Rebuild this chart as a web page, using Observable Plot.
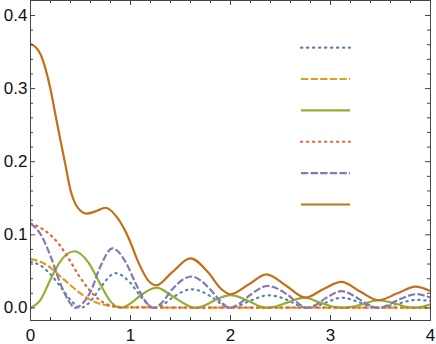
<!DOCTYPE html>
<html><head><meta charset="utf-8">
<script src="https://cdn.jsdelivr.net/npm/d3@7"></script>
<script src="https://cdn.jsdelivr.net/npm/@observablehq/plot@0.6"></script>
<style>body{margin:0;background:#fff}</style>
</head><body><div id="chart"></div>
<script>
// ---- data ----
const blueX = [0, 0.1, 0.2, 0.3, 0.4, 0.5, 0.6, 0.7, 0.85, 1.0, 1.1, 1.2, 1.25, 1.33, 1.43, 1.61, 1.8, 1.9, 1.99, 2.08, 2.2, 2.38, 2.55, 2.67, 2.76, 2.85, 2.95, 3.11, 3.3, 3.4, 3.48, 3.56, 3.68, 3.86, 4.0];
const blueY = [0.063, 0.058, 0.046, 0.029, 0.011, 0.0, 0.009, 0.028, 0.0475, 0.034, 0.016, 0.002, 0, 0.005, 0.015, 0.0255, 0.016, 0.006, 0, 0.003, 0.010, 0.0173, 0.012, 0.004, 0, 0.002, 0.007, 0.014, 0.007, 0.002, 0, 0.002, 0.006, 0.011, 0.0095];

const orangeDashX = [0, 0.1, 0.2, 0.3, 0.4, 0.5, 0.6, 0.7, 0.8, 0.9, 1.0, 1.5, 2.0, 2.5, 3.0, 3.5, 4.0];
const orangeDashY = [0.067, 0.063, 0.055, 0.043, 0.031, 0.020, 0.011, 0.0055, 0.0025, 0.0012, 0.0008, 0.0005, 0.0005, 0.0005, 0.0005, 0.0005, 0.0005];

const greenX = [0, 0.1, 0.2, 0.3, 0.44, 0.58, 0.7, 0.8, 0.9, 1.0, 1.1, 1.26, 1.42, 1.55, 1.65, 1.75, 1.88, 2.0, 2.18, 2.3, 2.37, 2.45, 2.58, 2.74, 2.9, 3.05, 3.13, 3.2, 3.32, 3.48, 3.65, 3.77, 3.83, 3.9, 4.0];
const greenY = [0, 0.011, 0.039, 0.064, 0.0775, 0.062, 0.032, 0.009, 0, 0.006, 0.017, 0.0277, 0.016, 0.005, 0, 0.004, 0.013, 0.0175, 0.0095, 0.002, 0, 0.002, 0.008, 0.014, 0.007, 0.001, 0, 0.001, 0.005, 0.0105, 0.006, 0.001, 0, 0.001, 0.005];

const redX = [0, 0.08, 0.18, 0.28, 0.38, 0.48, 0.58, 0.68, 0.78, 0.9, 1.0, 1.5, 2.0, 2.5, 3.0, 3.5, 4.0];
const redY = [0.1155, 0.111, 0.102, 0.088, 0.068, 0.045, 0.026, 0.012, 0.0042, 0.0012, 0.0008, 0.0005, 0.0005, 0.0005, 0.0005, 0.0005, 0.0005];

const purpleX = [0, 0.1, 0.2, 0.3, 0.38, 0.45, 0.52, 0.6, 0.7, 0.82, 0.95, 1.05, 1.15, 1.23, 1.32, 1.42, 1.61, 1.8, 1.9, 1.99, 2.08, 2.2, 2.37, 2.55, 2.67, 2.76, 2.85, 2.95, 3.11, 3.3, 3.4, 3.48, 3.56, 3.68, 3.86, 4.0];
const purpleY = [0.1155, 0.101, 0.071, 0.033, 0.010, 0, 0.006, 0.022, 0.057, 0.0815, 0.063, 0.034, 0.009, 0, 0.008, 0.026, 0.043, 0.025, 0.009, 0, 0.005, 0.018, 0.030, 0.020, 0.007, 0, 0.004, 0.013, 0.023, 0.011, 0.003, 0, 0.003, 0.011, 0.0188, 0.014];

const totalX = [0, 0.05, 0.1, 0.15, 0.2, 0.25, 0.3, 0.35, 0.4, 0.45, 0.5, 0.56, 0.65, 0.75, 0.88, 0.98, 1.08, 1.18, 1.26, 1.41, 1.6, 1.78, 1.91, 2.0, 2.18, 2.36, 2.55, 2.75, 2.93, 3.11, 3.3, 3.48, 3.67, 3.85, 4.0];
const totalY = [0.361, 0.357, 0.347, 0.327, 0.299, 0.264, 0.229, 0.195, 0.161, 0.142, 0.133, 0.129, 0.132, 0.137, 0.121, 0.096, 0.062, 0.037, 0.031, 0.048, 0.0678, 0.048, 0.0255, 0.0187, 0.032, 0.046, 0.031, 0.014, 0.026, 0.0355, 0.022, 0.0105, 0.020, 0.029, 0.023];

const xTickValues = [0, 1, 2, 3, 4];
const xTickLabels = ["0", "1", "2", "3", "4"];
const xMinorTicks = [0.2, 0.4, 0.6, 0.8, 1.2, 1.4, 1.6, 1.8, 2.2, 2.4, 2.6, 2.8, 3.2, 3.4, 3.6, 3.8];
const yTickValues = [0, 0.1, 0.2, 0.3, 0.4];
const yTickLabels = ["0.0", "0.1", "0.2", "0.3", "0.4"];
const yMinorTicks = [0.02, 0.04, 0.06, 0.08, 0.12, 0.14, 0.16, 0.18, 0.22, 0.24, 0.26, 0.28, 0.32, 0.34, 0.36, 0.38];
const legendNames = ["", "", "", "", "", ""];

// ---- styles / layout ----
const dotted = {strokeDasharray: "1.3 4.7", strokeLinecap: "round"};
const dashed = {strokeDasharray: "7.3 2.3", strokeLinecap: "butt"};
const solid = {strokeLinecap: "butt"};
const series = [
  {x: blueX, y: blueY, color: "#5E81B5", style: dotted},
  {x: orangeDashX, y: orangeDashY, color: "#E19C24", style: dashed},
  {x: greenX, y: greenY, color: "#8FB032", style: solid},
  {x: redX, y: redY, color: "#EB6235", style: dotted},
  {x: purpleX, y: purpleY, color: "#8778B3", style: dashed},
  {x: totalX, y: totalY, color: "#C56E1A", style: solid}
];

const W = 436, H = 344, mL = 30, mR = 6, mT = 0, mB = 24;
const plotW = W - mL - mR, plotH = H - mT - mB;
const frameColor = "#444";
const majorLen = 5, minorLen = 3;

// legend placement (in data units, inside the frame, upper right)
const legendX1 = 2.71, legendX2 = 3.2, legendTop = 0.356, legendStep = 0.0429;

const marks = [];
series.forEach(s => {
  const data = s.x.map((x, i) => ({x, y: s.y[i]}));
  marks.push(Plot.line(data, {x: "x", y: "y", stroke: s.color, strokeWidth: 2.2, curve: "monotone-x", clip: true, ...s.style}));
});
series.forEach((s, i) => {
  marks.push(Plot.ruleY([legendNames[i]], {y: () => legendTop - i * legendStep, x1: legendX1, x2: legendX2, stroke: s.color, strokeWidth: 2.2, ...s.style}));
});
// frame ticks (inward, all four sides)
marks.push(
  Plot.tickX(xTickValues, {x: d => d, insetTop: plotH - majorLen, stroke: frameColor}),
  Plot.tickX(xMinorTicks, {x: d => d, insetTop: plotH - minorLen, stroke: frameColor}),
  Plot.tickX(xTickValues, {x: d => d, insetBottom: plotH - majorLen, stroke: frameColor}),
  Plot.tickX(xMinorTicks, {x: d => d, insetBottom: plotH - minorLen, stroke: frameColor}),
  Plot.tickY(yTickValues, {y: d => d, insetRight: plotW - majorLen, stroke: frameColor}),
  Plot.tickY(yMinorTicks, {y: d => d, insetRight: plotW - minorLen, stroke: frameColor}),
  Plot.tickY(yTickValues, {y: d => d, insetLeft: plotW - majorLen, stroke: frameColor}),
  Plot.tickY(yMinorTicks, {y: d => d, insetLeft: plotW - minorLen, stroke: frameColor}),
  Plot.frame({stroke: frameColor}),
  Plot.axisX(xTickValues, {tickSize: 0, tickPadding: 8, fontSize: 17, fill: "#111", tickFormat: d => xTickLabels[xTickValues.indexOf(d)]}),
  Plot.axisY(yTickValues, {tickSize: 0, tickPadding: 3, fontSize: 17, fill: "#111", tickFormat: d => yTickLabels[yTickValues.indexOf(d)]})
);

const chart = Plot.plot({
  width: W, height: H,
  marginLeft: mL, marginRight: mR, marginTop: mT, marginBottom: mB,
  x: {domain: [0, 4], label: null},
  y: {domain: [-0.0172, 0.4205], label: null},
  style: {fontFamily: "'Liberation Sans', Arial, sans-serif", background: "#fff", overflow: "visible"},
  marks
});
document.getElementById("chart").appendChild(chart);
</script>
</body></html>
